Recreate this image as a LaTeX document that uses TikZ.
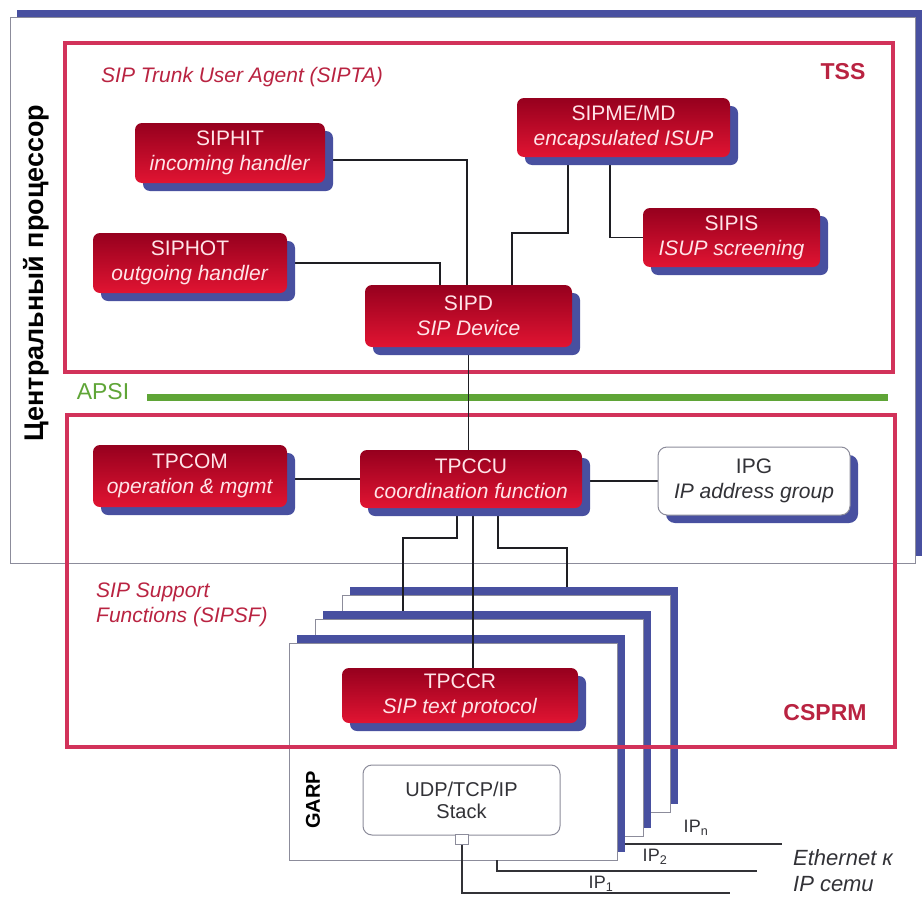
\documentclass[tikz,border=0pt]{standalone}
\usepackage{fontspec}
\setmainfont{Liberation Sans}
\usetikzlibrary{shadows,calc}
\pgfdeclarelayer{back}
\pgfdeclarelayer{lines}
\pgfsetlayers{back,lines,main}

\definecolor{framered}{RGB}{210,50,90}
\definecolor{labelred}{RGB}{185,35,65}
\definecolor{shblue}{RGB}{72,80,160}
\definecolor{boxtop}{RGB}{150,0,30}
\definecolor{boxbot}{RGB}{225,20,50}
\definecolor{boxtext}{RGB}{255,228,232}
\definecolor{edgegray}{RGB}{140,140,155}
\definecolor{darktext}{RGB}{50,50,55}
\definecolor{wirecol}{RGB}{30,30,35}
\definecolor{apsigreen}{RGB}{95,165,55}

\begin{document}
\begin{tikzpicture}[x=1pt,y=-1pt,
  redbox/.style={rounded corners=7pt, top color=boxtop, bottom color=boxbot,
    text=boxtext, align=center, inner sep=0pt,
    font=\fontsize{21}{25}\selectfont,
    drop shadow={shadow xshift=8pt, shadow yshift=-8pt, fill=shblue, opacity=1}},
  whitebox/.style={rounded corners=9pt, fill=white, draw=edgegray, line width=1pt,
    text=darktext, align=center, inner sep=0pt,
    font=\fontsize{21}{25}\selectfont},
  card/.style={fill=white, draw=edgegray, line width=0.8pt, inner sep=0pt,
    minimum width=328pt, minimum height=217pt,
    drop shadow={shadow xshift=8pt, shadow yshift=8pt, fill=shblue, opacity=1}},
  frame/.style={draw=framered, line width=3.5pt},
  wire/.style={draw=wirecol, line width=1.4pt},
  thinwire/.style={draw=darktext, line width=1.1pt},
  tag/.style={text=labelred, font=\bfseries\fontsize{23}{23}\selectfont},
  caption/.style={text=labelred, align=left, inner sep=0pt,
    font=\itshape\fontsize{21}{25}\selectfont},
  iplabel/.style={text=darktext, inner sep=0pt, font=\fontsize{18}{18}\selectfont}
]
\useasboundingbox (0,0) rectangle (922,897);

\begin{pgfonlayer}{back}
  % central processor frame with its blue offset band
  \fill[shblue] (17,10) rectangle (922,556);
  \draw[fill=white, draw=edgegray, line width=0.8pt] (10,17) rectangle (915,563);
  % TSS frame
  \draw[frame] (65,43) rectangle (893,372);
  % APSI bar
  \coordinate (apsiL) at (147,397);
  \coordinate (apsiR) at (888,397);
  \draw[apsigreen, line width=7pt] (apsiL) -- (apsiR);
  % stacked GARP cards, back to front
  \node[card] (card3) at (506,703.5) {};
  \node[card] (card2) at (479,727.5) {};
  \node[card] (front) at (453,751.5) {};
  % CSPRM frame
  \draw[frame] (67,415) rectangle (895,747);
\end{pgfonlayer}

% labels
\node[rotate=90, font=\bfseries\fontsize{27}{27}\selectfont] (cpu) at (36,273) {Центральный процессор};
\node[tag] (tss) at (843,72) {TSS};
\node[tag] (csprm) at (825,713) {CSPRM};
\node[caption, anchor=west] (sipta) at (101,77) {SIP Trunk User Agent (SIPTA)};
\node[caption, anchor=west] (sipsf) at (96,604.5) {SIP Support\\Functions (SIPSF)};
\node[text=apsigreen, font=\fontsize{23}{23}\selectfont] (apsi) at (103,392) {APSI};

% SIPTA blocks
\node[redbox, minimum width=190pt, minimum height=60pt] (siphit) at (230,153) {SIPHIT\\\textit{incoming handler}};
\node[redbox, minimum width=194pt, minimum height=60pt] (siphot) at (190,263) {SIPHOT\\\textit{outgoing handler}};
\node[redbox, minimum width=207pt, minimum height=62pt] (sipd) at (468.5,316) {SIPD\\\textit{SIP Device}};
\node[redbox, minimum width=213pt, minimum height=59pt] (sipme) at (623.5,127.5) {SIPME/MD\\\textit{encapsulated ISUP}};
\node[redbox, minimum width=177pt, minimum height=59pt] (sipis) at (731.5,237.5) {SIPIS\\\textit{ISUP screening}};

% support functions
\node[redbox, minimum width=194pt, minimum height=62pt] (tpcom) at (190,476) {TPCOM\\\textit{operation \& mgmt}};
\node[redbox, minimum width=222pt, minimum height=58pt] (tpccu) at (471,479) {TPCCU\\\textit{coordination function}};
\node[whitebox, minimum width=192pt, minimum height=68pt,
  drop shadow={shadow xshift=8pt, shadow yshift=-8pt, fill=shblue, opacity=1}] (ipg) at (754,481) {IPG\\\textit{IP address group}};
\node[redbox, minimum width=236pt, minimum height=55pt] (tpccr) at (460,695.5) {TPCCR\\\textit{SIP text protocol}};

% GARP card contents
\node[rotate=90, font=\bfseries\fontsize{20}{20}\selectfont] (garp) at (313,800) {GARP};
\node[whitebox, minimum width=197pt, minimum height=70pt, font=\fontsize{20}{22}\selectfont] (udp) at (461.5,800) {UDP/TCP/IP\\Stack};
\node[draw=edgegray, fill=white, line width=1pt, inner sep=0pt, minimum width=13pt, minimum height=10pt] (port) at (462,839) {};

% network side
\node[iplabel] (ip1) at (601,884) {IP\textsubscript{1}};
\node[iplabel] (ip2) at (655,857) {IP\textsubscript{2}};
\node[iplabel] (ipn) at (696,828) {IP\textsubscript{n}};
\node[anchor=west, align=left, inner sep=0pt, text=darktext,
  font=\itshape\fontsize{22}{26}\selectfont] (eth) at (793,871) {Ethernet к\\IP сети};

\coordinate (k1) at (512,233);
\coordinate (k2) at (403,538);
\coordinate (k3) at (567,548);
\coordinate (c2top) at ($(card2.north)+(0,-8)$);
\coordinate (c3top) at ($(card3.north)+(0,-8)$);
\coordinate (ip1end) at (730,893);
\coordinate (ip2end) at (757,871);
\coordinate (ipnend) at (782,844);

\begin{pgfonlayer}{lines}
  \draw[wire] ([yshift=-7pt]siphit.east) -| ([xshift=-1.5pt]sipd.north);
  \draw[wire] (siphot.east) -| ([xshift=-28.5pt]sipd.north);
  \draw[wire] ([xshift=-55.5pt]sipme.south) |- (k1) -- ([xshift=43.5pt]sipd.north);
  \draw[wire] ([xshift=-13.5pt]sipme.south) |- (sipis.west);
  \draw[wire] (sipd.south) -- (sipd.south |- tpccu.north);
  \draw[wire] (tpccu.west) -- (tpccu.west -| tpcom.east);
  \draw[wire] (ipg.west) -- (ipg.west -| tpccu.east);
  \draw[wire] ([xshift=2pt]tpccu.south) -- ([xshift=2pt]tpccu.south |- tpccr.north);
  \draw[wire] ([xshift=-14pt]tpccu.south) |- (k2) -- (k2 |- c2top);
  \draw[wire] ([xshift=27pt]tpccu.south) |- (k3) -- (k3 |- c3top);
  \draw[thinwire] (port.south) |- (ip1end);
  \draw[thinwire] ([xshift=44pt]front.south) |- (ip2end);
  \draw[thinwire] ($(ipnend -| front.east)+(8,0)$) -- (ipnend);
\end{pgfonlayer}
\end{tikzpicture}
\end{document}
